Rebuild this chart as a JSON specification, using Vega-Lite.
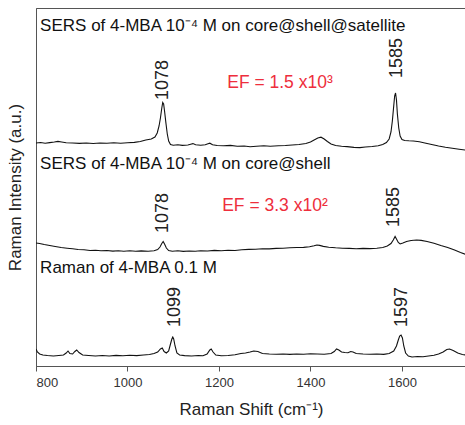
{
  "$schema": "https://vega.github.io/schema/vega-lite/v6.json",
  "width": 430,
  "height": 358,
  "autosize": {"type": "none"},
  "padding": {"left": 36, "top": 8, "right": 0, "bottom": 59},
  "background": "white",
  "config": {
    "font": "Liberation Sans",
    "view": {"stroke": "#555", "strokeWidth": 1},
    "axis": {"grid": false, "domainColor": "#555", "tickColor": "#555", "labelColor": "#333", "titleColor": "#222", "titleFontWeight": "normal", "labelFont": "Liberation Sans", "titleFont": "Liberation Sans"}
  },
  "datasets": {
    "spectra": [
      {"s":"A","x":800,"y":223},{"s":"A","x":810,"y":223.5},{"s":"A","x":820,"y":222.8},{"s":"A","x":830,"y":223.4},{"s":"A","x":840,"y":224},{"s":"A","x":848,"y":224.6},{"s":"A","x":856,"y":224},{"s":"A","x":866,"y":223.2},{"s":"A","x":880,"y":223},{"s":"A","x":895,"y":222.6},{"s":"A","x":910,"y":223},{"s":"A","x":925,"y":222.5},{"s":"A","x":940,"y":223},{"s":"A","x":955,"y":222.7},{"s":"A","x":970,"y":223.2},{"s":"A","x":985,"y":222.8},{"s":"A","x":1000,"y":223.3},{"s":"A","x":1015,"y":223.6},{"s":"A","x":1028,"y":224.5},{"s":"A","x":1040,"y":226},{"s":"A","x":1052,"y":227},{"s":"A","x":1060,"y":229},{"s":"A","x":1065,"y":233},{"s":"A","x":1069,"y":240},{"s":"A","x":1072,"y":248},{"s":"A","x":1075,"y":258},{"s":"A","x":1077,"y":263.5},{"s":"A","x":1079,"y":262},{"s":"A","x":1081,"y":255},{"s":"A","x":1084,"y":243},{"s":"A","x":1087,"y":232},{"s":"A","x":1090,"y":225},{"s":"A","x":1094,"y":221.5},{"s":"A","x":1100,"y":220.8},{"s":"A","x":1110,"y":221.2},{"s":"A","x":1120,"y":220.6},{"s":"A","x":1132,"y":221},{"s":"A","x":1138,"y":221.8},{"s":"A","x":1143,"y":222.4},{"s":"A","x":1149,"y":221.2},{"s":"A","x":1160,"y":220.8},{"s":"A","x":1170,"y":221.2},{"s":"A","x":1176,"y":222.3},{"s":"A","x":1180,"y":222.8},{"s":"A","x":1186,"y":221.3},{"s":"A","x":1196,"y":220.5},{"s":"A","x":1210,"y":220.2},{"s":"A","x":1225,"y":220.6},{"s":"A","x":1240,"y":219.8},{"s":"A","x":1255,"y":220},{"s":"A","x":1268,"y":219.3},{"s":"A","x":1282,"y":219.8},{"s":"A","x":1298,"y":220.2},{"s":"A","x":1312,"y":219.8},{"s":"A","x":1330,"y":220.2},{"s":"A","x":1345,"y":220.5},{"s":"A","x":1360,"y":221},{"s":"A","x":1375,"y":221.5},{"s":"A","x":1390,"y":222.5},{"s":"A","x":1400,"y":224},{"s":"A","x":1408,"y":226},{"s":"A","x":1416,"y":228},{"s":"A","x":1423,"y":228.8},{"s":"A","x":1430,"y":227},{"s":"A","x":1437,"y":224.5},{"s":"A","x":1445,"y":222},{"s":"A","x":1455,"y":220.5},{"s":"A","x":1468,"y":219.8},{"s":"A","x":1480,"y":219.4},{"s":"A","x":1495,"y":218.6},{"s":"A","x":1508,"y":218.4},{"s":"A","x":1520,"y":219},{"s":"A","x":1535,"y":219.5},{"s":"A","x":1548,"y":220.3},{"s":"A","x":1558,"y":221.5},{"s":"A","x":1566,"y":223.5},{"s":"A","x":1572,"y":227},{"s":"A","x":1576,"y":234},{"s":"A","x":1579,"y":245},{"s":"A","x":1582,"y":260},{"s":"A","x":1584,"y":270},{"s":"A","x":1586,"y":273},{"s":"A","x":1588,"y":266},{"s":"A","x":1590,"y":252},{"s":"A","x":1593,"y":238},{"s":"A","x":1596,"y":230},{"s":"A","x":1600,"y":226.5},{"s":"A","x":1606,"y":225.5},{"s":"A","x":1615,"y":225.2},{"s":"A","x":1625,"y":225},{"s":"A","x":1638,"y":224.3},{"s":"A","x":1650,"y":223},{"s":"A","x":1665,"y":221.5},{"s":"A","x":1680,"y":220},{"s":"A","x":1695,"y":218.8},{"s":"A","x":1710,"y":217.8},{"s":"A","x":1725,"y":216.8},{"s":"A","x":1740,"y":215.8},

      {"s":"B","x":800,"y":123},{"s":"B","x":808,"y":122.5},{"s":"B","x":818,"y":121.5},{"s":"B","x":830,"y":120.5},{"s":"B","x":842,"y":119.5},{"s":"B","x":855,"y":118.5},{"s":"B","x":868,"y":117.8},{"s":"B","x":880,"y":117.2},{"s":"B","x":892,"y":116.5},{"s":"B","x":905,"y":116.2},{"s":"B","x":918,"y":115.5},{"s":"B","x":930,"y":115.8},{"s":"B","x":942,"y":115.2},{"s":"B","x":955,"y":115.5},{"s":"B","x":968,"y":114.9},{"s":"B","x":980,"y":115.3},{"s":"B","x":992,"y":114.8},{"s":"B","x":1005,"y":115.2},{"s":"B","x":1018,"y":114.7},{"s":"B","x":1030,"y":115.1},{"s":"B","x":1045,"y":114.8},{"s":"B","x":1058,"y":115.3},{"s":"B","x":1066,"y":116.5},{"s":"B","x":1071,"y":119},{"s":"B","x":1075,"y":122.5},{"s":"B","x":1078,"y":124.5},{"s":"B","x":1081,"y":122},{"s":"B","x":1085,"y":118},{"s":"B","x":1090,"y":115.5},{"s":"B","x":1098,"y":114.8},{"s":"B","x":1110,"y":115.2},{"s":"B","x":1122,"y":114.6},{"s":"B","x":1135,"y":115},{"s":"B","x":1148,"y":114.7},{"s":"B","x":1160,"y":115.3},{"s":"B","x":1175,"y":115},{"s":"B","x":1190,"y":115.6},{"s":"B","x":1205,"y":115.2},{"s":"B","x":1220,"y":115.8},{"s":"B","x":1235,"y":115.5},{"s":"B","x":1250,"y":116.2},{"s":"B","x":1265,"y":116.6},{"s":"B","x":1280,"y":116.8},{"s":"B","x":1295,"y":117.3},{"s":"B","x":1310,"y":117.1},{"s":"B","x":1325,"y":117.6},{"s":"B","x":1340,"y":117.8},{"s":"B","x":1355,"y":118.2},{"s":"B","x":1370,"y":118.5},{"s":"B","x":1385,"y":118.6},{"s":"B","x":1398,"y":119.2},{"s":"B","x":1408,"y":120.2},{"s":"B","x":1414,"y":121},{"s":"B","x":1420,"y":120.6},{"s":"B","x":1428,"y":119.6},{"s":"B","x":1440,"y":118.8},{"s":"B","x":1455,"y":118.2},{"s":"B","x":1470,"y":117.8},{"s":"B","x":1485,"y":117.6},{"s":"B","x":1500,"y":117.3},{"s":"B","x":1515,"y":117.6},{"s":"B","x":1530,"y":117.4},{"s":"B","x":1545,"y":117.8},{"s":"B","x":1558,"y":118.5},{"s":"B","x":1568,"y":120},{"s":"B","x":1576,"y":122.5},{"s":"B","x":1581,"y":126},{"s":"B","x":1585,"y":129.5},{"s":"B","x":1588,"y":127},{"s":"B","x":1592,"y":123.5},{"s":"B","x":1596,"y":122},{"s":"B","x":1602,"y":123},{"s":"B","x":1610,"y":124.5},{"s":"B","x":1620,"y":125.5},{"s":"B","x":1632,"y":126},{"s":"B","x":1642,"y":125.6},{"s":"B","x":1655,"y":124.5},{"s":"B","x":1670,"y":122.8},{"s":"B","x":1685,"y":120.5},{"s":"B","x":1700,"y":118.5},{"s":"B","x":1715,"y":116},{"s":"B","x":1728,"y":113.5},{"s":"B","x":1740,"y":111.5},

      {"s":"C","x":800,"y":17},{"s":"C","x":803,"y":14},{"s":"C","x":808,"y":12},{"s":"C","x":815,"y":11},{"s":"C","x":825,"y":10.5},{"s":"C","x":838,"y":10},{"s":"C","x":850,"y":10.5},{"s":"C","x":860,"y":11},{"s":"C","x":866,"y":13},{"s":"C","x":870,"y":15},{"s":"C","x":874,"y":12.5},{"s":"C","x":880,"y":12},{"s":"C","x":885,"y":14.5},{"s":"C","x":889,"y":16},{"s":"C","x":894,"y":13.5},{"s":"C","x":902,"y":11},{"s":"C","x":915,"y":10.5},{"s":"C","x":930,"y":10},{"s":"C","x":945,"y":10.5},{"s":"C","x":960,"y":10},{"s":"C","x":975,"y":10.6},{"s":"C","x":990,"y":10.2},{"s":"C","x":1005,"y":10.8},{"s":"C","x":1020,"y":10.4},{"s":"C","x":1035,"y":11},{"s":"C","x":1048,"y":11.5},{"s":"C","x":1058,"y":12.5},{"s":"C","x":1066,"y":14},{"s":"C","x":1072,"y":17},{"s":"C","x":1076,"y":18},{"s":"C","x":1080,"y":14.5},{"s":"C","x":1085,"y":13},{"s":"C","x":1090,"y":15},{"s":"C","x":1094,"y":22},{"s":"C","x":1097,"y":27},{"s":"C","x":1099,"y":29},{"s":"C","x":1101,"y":27},{"s":"C","x":1104,"y":20},{"s":"C","x":1108,"y":13},{"s":"C","x":1114,"y":11},{"s":"C","x":1125,"y":10.4},{"s":"C","x":1140,"y":10},{"s":"C","x":1155,"y":10.5},{"s":"C","x":1165,"y":10.2},{"s":"C","x":1174,"y":12},{"s":"C","x":1180,"y":16},{"s":"C","x":1183,"y":17},{"s":"C","x":1187,"y":14},{"s":"C","x":1193,"y":11},{"s":"C","x":1205,"y":10.2},{"s":"C","x":1220,"y":10.5},{"s":"C","x":1235,"y":11.2},{"s":"C","x":1248,"y":12.5},{"s":"C","x":1258,"y":13},{"s":"C","x":1268,"y":14},{"s":"C","x":1276,"y":15},{"s":"C","x":1285,"y":14.5},{"s":"C","x":1295,"y":12.5},{"s":"C","x":1310,"y":12},{"s":"C","x":1325,"y":11.7},{"s":"C","x":1340,"y":12},{"s":"C","x":1355,"y":11.6},{"s":"C","x":1370,"y":12},{"s":"C","x":1385,"y":11.8},{"s":"C","x":1400,"y":12.2},{"s":"C","x":1415,"y":12},{"s":"C","x":1430,"y":11.8},{"s":"C","x":1445,"y":12.5},{"s":"C","x":1452,"y":14.5},{"s":"C","x":1457,"y":17},{"s":"C","x":1462,"y":16},{"s":"C","x":1468,"y":14},{"s":"C","x":1475,"y":13.5},{"s":"C","x":1482,"y":13.2},{"s":"C","x":1488,"y":14.5},{"s":"C","x":1493,"y":14},{"s":"C","x":1500,"y":12.5},{"s":"C","x":1515,"y":12},{"s":"C","x":1530,"y":11.8},{"s":"C","x":1545,"y":12},{"s":"C","x":1560,"y":11.6},{"s":"C","x":1572,"y":12.5},{"s":"C","x":1582,"y":15},{"s":"C","x":1588,"y":20},{"s":"C","x":1592,"y":26},{"s":"C","x":1595,"y":30},{"s":"C","x":1598,"y":31},{"s":"C","x":1601,"y":28},{"s":"C","x":1604,"y":20},{"s":"C","x":1608,"y":13},{"s":"C","x":1614,"y":10},{"s":"C","x":1622,"y":9},{"s":"C","x":1634,"y":9.5},{"s":"C","x":1646,"y":9.2},{"s":"C","x":1658,"y":10},{"s":"C","x":1670,"y":10.8},{"s":"C","x":1680,"y":12},{"s":"C","x":1690,"y":14},{"s":"C","x":1698,"y":16.5},{"s":"C","x":1704,"y":17},{"s":"C","x":1712,"y":15.5},{"s":"C","x":1722,"y":13},{"s":"C","x":1732,"y":11.5},{"s":"C","x":1740,"y":11}
    ],
    "titles": [
      {"t": "SERS of 4-MBA 10⁻⁴ M on core@shell@satellite", "x": 809, "y": 335},
      {"t": "SERS of 4-MBA 10⁻⁴ M on core@shell", "x": 809, "y": 197},
      {"t": "Raman of 4-MBA 0.1 M", "x": 809, "y": 93}
    ],
    "peaks": [
      {"t": "1078", "x": 1078, "y": 266},
      {"t": "1585", "x": 1589, "y": 288},
      {"t": "1078", "x": 1078, "y": 133},
      {"t": "1585", "x": 1583, "y": 139},
      {"t": "1099", "x": 1104, "y": 39},
      {"t": "1597", "x": 1600, "y": 39}
    ],
    "ef": [
      {"t": "EF = 1.5 x10³", "x": 1218, "y": 278},
      {"t": "EF = 3.3 x10²", "x": 1207, "y": 155}
    ]
  },
  "layer": [
    {
      "data": {"name": "spectra"},
      "mark": {"type": "line", "color": "#111", "strokeWidth": 1.1, "clip": true},
      "encoding": {
        "x": {"field": "x", "type": "quantitative", "scale": {"domain": [800, 1740], "nice": false, "zero": false},
          "axis": {"title": "Raman Shift (cm⁻¹)", "values": [800, 1000, 1200, 1400, 1600], "tickSize": 5, "labelFontSize": 13, "labelPadding": 5, "titleFontSize": 17, "titlePadding": 12, "format": "d"}},
        "y": {"field": "y", "type": "quantitative", "scale": {"domain": [0, 358], "nice": false, "zero": false},
          "axis": {"title": "Raman Intensity (a.u.)", "labels": false, "ticks": false, "titleFontSize": 17, "titlePadding": 12}},
        "detail": {"field": "s", "type": "nominal"}
      }
    },
    {
      "data": {"name": "titles"},
      "mark": {"type": "text", "align": "left", "baseline": "alphabetic", "fontSize": 17, "color": "#111"},
      "encoding": {
        "x": {"field": "x", "type": "quantitative"},
        "y": {"field": "y", "type": "quantitative"},
        "text": {"field": "t"}
      }
    },
    {
      "data": {"name": "peaks"},
      "mark": {"type": "text", "align": "left", "baseline": "middle", "angle": 270, "fontSize": 18, "color": "#222"},
      "encoding": {
        "x": {"field": "x", "type": "quantitative"},
        "y": {"field": "y", "type": "quantitative"},
        "text": {"field": "t"}
      }
    },
    {
      "data": {"name": "ef"},
      "mark": {"type": "text", "align": "left", "baseline": "alphabetic", "fontSize": 17.5, "color": "#ee2e3c"},
      "encoding": {
        "x": {"field": "x", "type": "quantitative"},
        "y": {"field": "y", "type": "quantitative"},
        "text": {"field": "t"}
      }
    }
  ]
}
